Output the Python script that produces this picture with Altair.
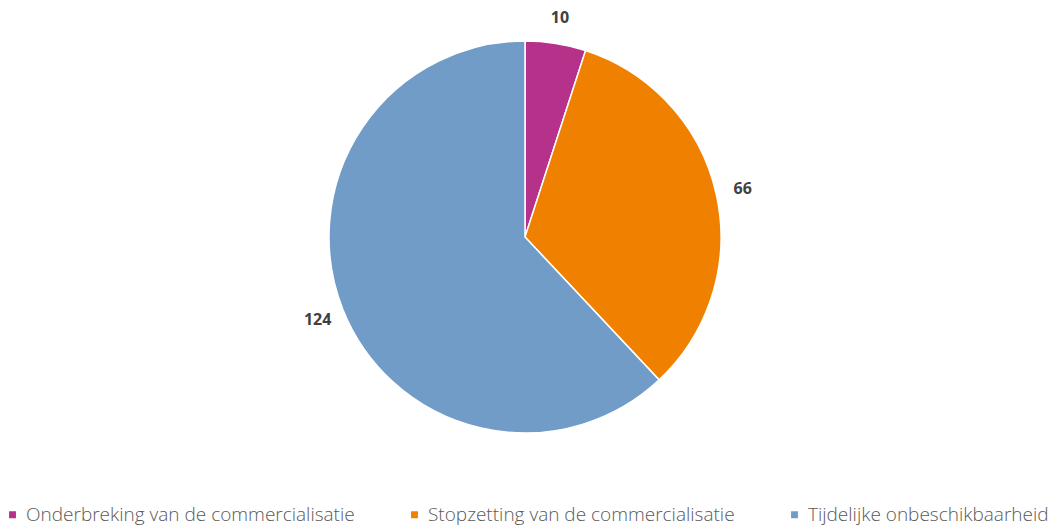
import altair as alt
import pandas as pd

categories = ["Onderbreking van de commercialisatie", "Stopzetting van de commercialisatie", "Tijdelijke onbeschikbaarheid"]
values = [10, 66, 124]
colors = ["#B5318A", "#F08000", "#729CC8"]
order = [0, 1, 2]

df = pd.DataFrame({"category": categories, "value": values, "order": order})

color = alt.Color("category:N", sort=categories,
                  scale=alt.Scale(domain=categories, range=colors),
                  legend=alt.Legend(title=None, orient="none", legendX=3, legendY=505,
                                    direction="horizontal", columns=3,
                                    symbolType="square", symbolSize=70,
                                    labelFont="Open Sans", labelFontSize=19, labelFontWeight=300,
                                    labelColor="#595959", columnPadding=50, labelLimit=500,
                                    symbolOffset=0, labelOffset=4))

base = alt.Chart(df).encode(
    theta=alt.Theta("value:Q", stack=True),
    order=alt.Order("order:Q"),
)

pie = base.mark_arc(stroke="white", strokeWidth=1.5).encode(
    color=color,
    x=alt.value(525), y=alt.value(237),
    radius=alt.value(196),
)

labels = base.mark_text(font="Open Sans", fontSize=16, fontWeight="bold", color="#404040").encode(
    text=alt.Text("value:Q"),
    x=alt.value(525), y=alt.value(238),
    radius=alt.value(223),
)

chart = alt.layer(pie, labels).properties(
    width=1049, height=527,
    autosize=alt.AutoSizeParams(type="none"),
    padding=0,
).configure_view(stroke=None)

chart.save("out.html", embed_options={"renderer": "svg", "actions": False})
